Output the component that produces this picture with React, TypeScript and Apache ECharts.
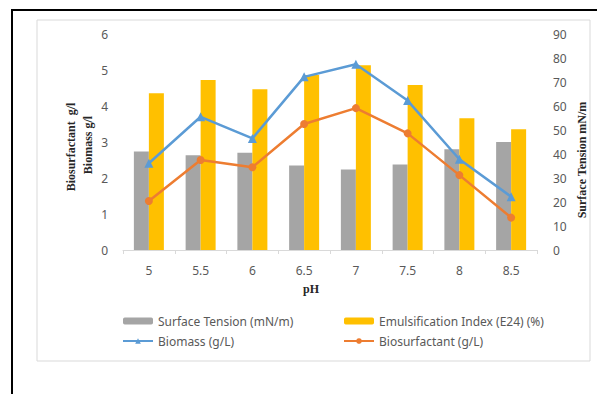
import React, { useEffect, useRef } from "react";
import * as echarts from "echarts";

// pH values tested
const categories = ["5", "5.5", "6", "6.5", "7", "7.5", "8", "8.5"];
// right axis (mN/m and %)
const surfaceTension = [41, 39.5, 40.5, 35.2, 33.5, 35.6, 42, 45];
const emulsificationIndex = [65.3, 70.8, 67, 72.9, 77, 68.8, 54.9, 50.3];
// left axis (g/L)
const biomass = [2.41, 3.7, 3.1, 4.81, 5.16, 4.15, 2.52, 1.48];
const biosurfactant = [1.36, 2.5, 2.3, 3.5, 3.94, 3.24, 2.08, 0.9];

const tickFont = { color: "#595959", fontSize: 12, fontFamily: "Noto Sans" };
const titleFont = "bold 12px 'Liberation Serif'";

export default function App() {
  const ref = useRef<HTMLDivElement>(null);

  useEffect(() => {
    if (!ref.current) return;
    const chart = echarts.init(ref.current, null, { renderer: "svg" });
    chart.setOption({
      animation: false,
      backgroundColor: "#ffffff",
      grid: { left: 123, right: 60, top: 34, bottom: 144 },
      xAxis: {
        type: "category",
        data: categories,
        axisLine: { lineStyle: { color: "#d9d9d9", width: 1 } },
        axisTick: { show: true, length: 4, lineStyle: { color: "#d9d9d9" } },
        axisLabel: { ...tickFont, margin: 14 },
        splitLine: { show: false },
      },
      yAxis: [
        {
          type: "value",
          min: 0,
          max: 6,
          interval: 1,
          position: "left",
          axisLine: { show: false },
          axisTick: { show: false },
          splitLine: { show: false },
          axisLabel: { ...tickFont, margin: 15 },
        },
        {
          type: "value",
          min: 0,
          max: 90,
          interval: 10,
          position: "right",
          axisLine: { show: false },
          axisTick: { show: false },
          splitLine: { show: false },
          axisLabel: { ...tickFont, margin: 16 },
        },
      ],
      legend: [
        {
          orient: "vertical",
          left: 117,
          top: 310,
          itemWidth: 30,
          itemHeight: 7,
          itemGap: 8,
          textStyle: { color: "#595959", fontSize: 12, fontFamily: "Noto Sans" },
          data: ["Surface Tension (mN/m)", "Biomass (g/L)"],
        },
        {
          orient: "vertical",
          left: 338,
          top: 310,
          itemWidth: 30,
          itemHeight: 7,
          itemGap: 8,
          textStyle: { color: "#595959", fontSize: 12, fontFamily: "Noto Sans" },
          data: ["Emulsification Index (E24) (%)", "Biosurfactant (g/L)"],
        },
      ],
      series: [
        {
          name: "Surface Tension (mN/m)",
          type: "bar",
          yAxisIndex: 1,
          data: surfaceTension,
          barWidth: 15,
          barGap: "0%",
          itemStyle: { color: "#a5a5a5" },
        },
        {
          name: "Emulsification Index (E24) (%)",
          type: "bar",
          yAxisIndex: 1,
          data: emulsificationIndex,
          barWidth: 15,
          barGap: "0%",
          itemStyle: { color: "#ffc000" },
        },
        {
          name: "Biomass (g/L)",
          type: "line",
          yAxisIndex: 0,
          data: biomass,
          symbol: "triangle",
          symbolSize: 9,
          lineStyle: { color: "#5b9bd5", width: 2.5 },
          itemStyle: { color: "#5b9bd5" },
        },
        {
          name: "Biosurfactant (g/L)",
          type: "line",
          yAxisIndex: 0,
          data: biosurfactant,
          symbol: "circle",
          symbolSize: 8,
          lineStyle: { color: "#ed7d31", width: 2.5 },
          itemStyle: { color: "#ed7d31" },
        },
      ],
      graphic: [
        {
          type: "rect",
          silent: true,
          z: -1,
          shape: { x: 37, y: 20, width: 553, height: 341 },
          style: { fill: "none", stroke: "#d9d9d9", lineWidth: 1 },
        },
        {
          type: "rect",
          silent: true,
          shape: { x: 12, y: 10, width: 620, height: 420 },
          style: { fill: "none", stroke: "#000000", lineWidth: 2 },
        },
        {
          type: "text",
          x: 71,
          y: 147,
          rotation: Math.PI / 2,
          style: {
            text: "Biosurfactant  g/l",
            font: titleFont,
            fill: "#262626",
            align: "center",
            verticalAlign: "middle",
          },
        },
        {
          type: "text",
          x: 88,
          y: 145,
          rotation: Math.PI / 2,
          style: {
            text: "Biomass g/l",
            font: titleFont,
            fill: "#262626",
            align: "center",
            verticalAlign: "middle",
          },
        },
        {
          type: "text",
          x: 582,
          y: 160,
          rotation: Math.PI / 2,
          style: {
            text: "Surface Tension mN/m",
            font: titleFont,
            fill: "#262626",
            align: "center",
            verticalAlign: "middle",
          },
        },
        {
          type: "text",
          x: 311,
          y: 289,
          style: {
            text: "pH",
            font: titleFont,
            fill: "#262626",
            align: "center",
            verticalAlign: "middle",
          },
        },
      ],
    });
    return () => chart.dispose();
  }, []);

  return (
    <div
      ref={ref}
      style={{ position: "fixed", left: 0, top: 0, width: 597, height: 394 }}
    />
  );
}
